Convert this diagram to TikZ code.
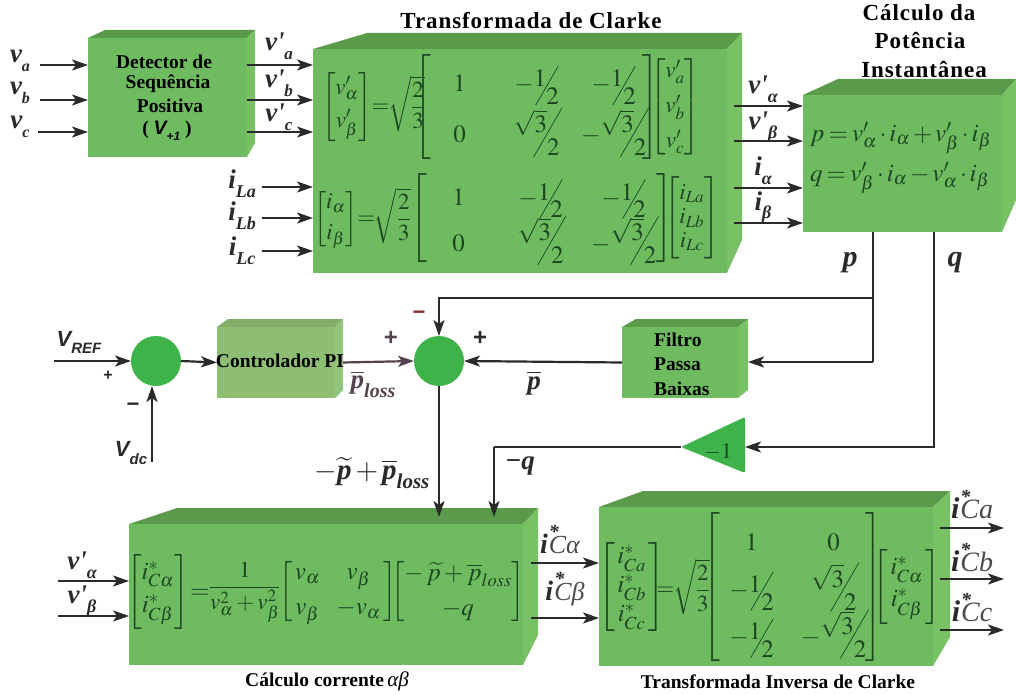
\documentclass[tikz,border=0pt]{standalone}
\usepackage{amsmath}
\usepackage{mathptmx}
\usepackage{graphicx}
\usepackage{fontspec}
\setmainfont{Liberation Serif}
\newfontfamily\hv{Liberation Sans}
\newfontfamily\ttl[LetterSpace=4]{Liberation Serif}
\usetikzlibrary{arrows.meta,calc}
\definecolor{gf}{HTML}{6FBC60}
\definecolor{gt}{HTML}{5C9A4B}
\definecolor{gs}{HTML}{78C164}
\definecolor{pf}{HTML}{8DBE73}
\definecolor{pt}{HTML}{84AD69}
\definecolor{ps}{HTML}{93C47D}
\definecolor{sumc}{HTML}{3DB34A}
\definecolor{ink}{HTML}{2A2A2A}
\definecolor{eqc}{HTML}{1C4522}
\definecolor{plum}{HTML}{54434F}
\newcommand\gbox[9]{%
  \fill[\cft] (#2,#3)--(#6,#8)--(#7,#8)--(#4,#3)--cycle;
  \fill[\cfs] (#4,#3)--(#7,#8)--(#7,#9)--(#4,#5)--cycle;
  \node[fill=\cff,inner sep=0pt,outer sep=0pt,minimum width={(#4-#2)*1pt},minimum height={(#5-#3)*1pt}] (#1) at ({(#2+#4)/2},{(#3+#5)/2}) {};
  \coordinate (#1back) at (#7,{(#3+#5)/2});
}
% slanted fractions: one-half form and root-three form
\newcommand\slashbar[2]{\makebox[.55em]{\smash{\raisebox{#2}{\rotatebox[origin=c]{60}{\rule{#1}{.7pt}}}}}}
\newcommand\sfr[2]{\mbox{\raisebox{.2em}{$#1$}\kern-.25em\slashbar{1.8em}{.24em}\kern-.3em\raisebox{-.5em}{$#2$}}}
\newcommand\sfs[2]{\mbox{\raisebox{.42em}{$#1$}\kern-.25em\slashbar{2.25em}{.4em}\kern-.3em\raisebox{-.5em}{$#2$}}}
\newcommand\cel[2]{\makebox[#1pt]{$#2$}}
\newcommand\lowsub[2]{\raisebox{-.32em}{\fontsize{#1}{#1}\selectfont #2}}
\newcommand\rowA{\rule[-15pt]{0pt}{51pt}}
\newcommand\rowB{\rule[-12.5pt]{0pt}{45.5pt}}
\newcommand\rowC{\rule[-13pt]{0pt}{47pt}}
\newcommand\pr{\textquotesingle}
\newcommand\ist[3]{{\fontsize{#1}{#1}\bfseries\itshape\selectfont i}\rlap{\smash{\raisebox{15pt}{\kern1pt\fontsize{20}{20}\bfseries\selectfont *}}}\kern1pt{\color{ink!85}\fontsize{#2}{#2}\mdseries\itshape\selectfont #3}}
\newcommand\rt{\mkern-2mu{=}\mkern-1mu\sqrt{\dfrac{2}{3}}}
\tikzset{
  arr/.style={draw=ink,line width=2.2pt,-{Stealth[length=16pt,width=11pt,inset=4pt]}},
  wire/.style={draw=ink,line width=2.2pt},
  title/.style={inner sep=0pt,font=\ttl\fontsize{23}{26}\bfseries\selectfont,text=black},
  boxt/.style={inner sep=0pt,font=\fontsize{19.5}{22}\bfseries\selectfont,text=black},
  sig/.style={inner sep=0pt,font=\fontsize{27}{30}\bfseries\itshape\selectfont,text=ink},
  sign/.style={inner sep=0pt,font=\hv\fontsize{22}{24}\bfseries\selectfont,text=ink},
  eq/.style={inner sep=0pt,outer sep=0pt,anchor=west,text=eqc,font=\fontsize{23}{27}\selectfont},
  eqb/.style={eq,font=\fontsize{25}{29}\selectfont},
  sumn/.style={circle,fill=sumc,inner sep=0pt,outer sep=0pt,minimum size=50pt},
}
\begin{document}
\begin{tikzpicture}[x=1pt,y=-1pt]
\useasboundingbox (0,0) rectangle (1016,695);
\def\cff{gf}\def\cft{gt}\def\cfs{gs}
\gbox{det}{88}{38}{247}{157}{105}{255}{30}{143}
\gbox{clarke}{313}{49}{727}{273}{367}{742}{33}{240}
\gbox{pot}{803}{95}{1002}{232}{838}{1016}{79}{200}
\gbox{filt}{622}{327}{738}{398}{636}{748}{319}{390}
\gbox{calc}{129}{524}{523}{665}{177}{538}{508}{635}
\gbox{inv}{599}{507}{933}{666}{643}{950}{491}{637}
\def\cff{pf}\def\cft{pt}\def\cfs{ps}
\gbox{pi}{217}{327}{335}{398}{228}{343}{319}{390}
\node[sumn] (sumA) at (156,361) {};
\node[sumn] (sumB) at (439,361) {};
\coordinate (gainIn) at (745,447);
\coordinate (gainOut) at (681,447);
\fill[sumc,rounded corners=2pt] (gainOut) -- (745,417) -- (745,473) -- cycle;
% titles
\node[title] (tClarke) at (531,21) {Transformada de Clarke};
\node[title] (tPotA) at (919,13) {Cálculo da};
\node[title] (tPotB) at (920,41) {Potência};
\node[title] (tPotC) at (924,70) {Instantânea};
\node[boxt] (dA) at (164,62) {Detector de};
\node[boxt] (dB) at (168,84) {Sequência};
\node[boxt] (dC) at (170,106) {Positiva};
\node[boxt] (dD) at (167,131) {( {\hv\itshape V\lowsub{12}{+1}} )};
\node[boxt,anchor=center] (piT) at (280,361) {Controlador PI};
\node[boxt,anchor=west] (fA) at (654,340) {Filtro};
\node[boxt,anchor=west] (fB) at (654,364) {Passa};
\node[boxt,anchor=west] (fC) at (654,389) {Baixas};
\node[boxt] (tCalc) at (327,681) {Cálculo corrente\,{\itshape\mdseries\fontsize{21}{21}\selectfont αβ}};
\node[boxt] (tInv) at (778,682) {Transformada Inversa de Clarke};
% Clarke equations
\node[eq] (eqAl) at (322,107) {$\left[\begin{array}{@{}c@{}} v'_{\alpha}\\[6pt] v'_{\beta}\end{array}\right]\rt$};
\node[eqb] (eqAm) at (414,107) {$\left[\begin{array}{@{}c@{}c@{}c@{}}
 \cel{58}{1}\rowA & \cel{96}{-\sfr{1}{2}} & \cel{58}{-\sfr{1}{2}}\\
 \cel{58}{0}\rowA & \cel{96}{\sfs{\sqrt{3}}{2}} & \cel{58}{-\sfs{\sqrt{3}}{2}}
\end{array}\right]$};
\node[eq] (eqAr) at (650,107) {$\left[\begin{array}{@{}c@{}} v'_{a}\\[8pt] v'_{b}\\[8pt] v'_{c}\end{array}\right]$};
\node[eq] (eqBl) at (314,218) {$\left[\begin{array}{@{}c@{}} i_{\alpha}\\[4pt] i_{\beta}\end{array}\right]\rt$};
\node[eqb] (eqBm) at (410,218) {$\left[\begin{array}{@{}c@{}c@{}c@{}}
 \cel{64}{1}\rowB & \cel{100}{-\sfr{1}{2}} & \cel{66}{-\sfr{1}{2}}\\
 \cel{64}{0}\rowB & \cel{100}{\sfs{\sqrt{3}}{2}} & \cel{66}{-\sfs{\sqrt{3}}{2}}
\end{array}\right]$};
\node[eq] (eqBr) at (664,218) {$\left[\begin{array}{@{}c@{}} i_{La}\\[-3pt] i_{Lb}\\[-3pt] i_{Lc}\end{array}\right]$};
% power
\node[eq,font=\fontsize{25}{30}\selectfont] (eqP) at (810,138) {$\thickmuskip=3mu\medmuskip=2mu p=v'_{\alpha}\cdot i_{\alpha}+v'_{\beta}\cdot i_{\beta}$};
\node[eq,font=\fontsize{25}{30}\selectfont] (eqQ) at (810,178) {$\thickmuskip=3mu\medmuskip=2mu q=v'_{\beta}\cdot i_{\alpha}-v'_{\alpha}\cdot i_{\beta}$};
% current
\node[eqb] (eqCa) at (127,592) {$\left[\begin{array}{@{}c@{}} i^{*}_{C\alpha}\\[4pt] i^{*}_{C\beta}\end{array}\right]\mkern-1mu{=}$};
\node[eq] (eqCb) at (209,592) {$\dfrac{1}{v_{\alpha}^{2}+v_{\beta}^{2}}$};
\node[eqb] (eqCc) at (279,592) {$\left[\begin{array}{@{\,}c@{\;\;\;}c@{\,}} v_{\alpha} & v_{\beta}\\[6pt] v_{\beta} & -v_{\alpha}\end{array}\right]$};
\node[eqb] (eqCd) at (391,592) {$\left[\begin{array}{@{}c@{}} -\,\widetilde{p}+\overline{p}_{loss}\\[6pt] -q\end{array}\right]$};
% inverse
\node[eqb] (eqDl) at (598,587) {$\left[\begin{array}{@{\,}c@{\,}} i^{*}_{Ca}\\ i^{*}_{Cb}\\ i^{*}_{Cc}\end{array}\right]$};
\node[eq] (eqDe) at (659,587) {$\rt$};
\node[eqb] (eqDm) at (703,587) {$\left[\begin{array}{@{}c@{}c@{}}
 \cel{64}{1}\rowC & \cel{100}{0}\\
 \cel{64}{-\sfr{1}{2}}\rowC & \cel{100}{\sfs{\sqrt{3}}{2}}\\
 \cel{64}{-\sfr{1}{2}}\rowC & \cel{100}{-\sfs{\sqrt{3}}{2}}
\end{array}\hspace{-18pt}\right]$};
\node[eqb] (eqDr) at (873,587) {$\left[\begin{array}{@{\,}c@{\,}} i^{*}_{C\alpha}\\[3pt] i^{*}_{C\beta}\end{array}\right]$};
% input/output signal names
\node[sig] (lva) at (20,61) {v\lowsub{16}{a}};
\node[sig] (lvb) at (20,93) {v\lowsub{16}{b}};
\node[sig] (lvc) at (20,127) {v\lowsub{16}{c}};
\node[sig] (lpa) at (279,46) {v\pr\lowsub{17}{a}};
\node[sig] (lpb) at (279,83) {v\pr\lowsub{17}{b}};
\node[sig] (lpc) at (279,117) {v\pr\lowsub{17}{c}};
\node[sig] (lia) at (242,184) {i\lowsub{18}{La}};
\node[sig] (lib) at (242,216) {i\lowsub{18}{Lb}};
\node[sig] (lic) at (242,251) {i\lowsub{18}{Lc}};
\node[sig] (lal) at (763,89) {v\pr\lowsub{18}{α}};
\node[sig] (lbe) at (763,127) {v\pr\lowsub{18}{β}};
\node[sig] (lial) at (763,171) {i\lowsub{18}{α}};
\node[sig] (libe) at (763,207) {i\lowsub{18}{β}};
\node[sig,font=\fontsize{30}{30}\bfseries\itshape\selectfont] (lp) at (850,263) {p};
\node[sig,font=\fontsize{30}{30}\bfseries\itshape\selectfont] (lq) at (955,263) {q};
\node[inner sep=0pt,text=ink,font=\hv\fontsize{22}{24}\bfseries\itshape\selectfont] (lvref) at (79,342) {V\lowsub{15}{REF}};
\node[inner sep=0pt,text=ink,font=\hv\fontsize{22}{24}\bfseries\itshape\selectfont] (lvdc) at (131,453) {V\lowsub{15}{dc}};
\node[sign,font=\hv\fontsize{16}{16}\bfseries\selectfont] (spA) at (108,376) {+};
\node[sign] (smA) at (133,407) {−};
\node[sign,font=\hv\fontsize{24}{24}\bfseries\selectfont,text=plum] (spB) at (391,338) {+};
\node[sign,text=plum!70!red] (smB) at (419,315) {−};
\node[sign,font=\hv\fontsize{24}{24}\bfseries\selectfont] (spC) at (480,338) {+};
\node[sig,text=plum] (lpl) at (373,384) {$\overline{\mbox{\itshape p}}$\lowsub{20}{loss}};
\node[sig,font=\fontsize{29}{30}\bfseries\itshape\selectfont] (lmix) at (372,473) {$-\widetilde{\mbox{\itshape p}}+\overline{\mbox{\itshape p}}$\lowsub{21}{loss}};
\node[sig] (lpb2) at (534,383) {$\overline{\mbox{\itshape p}}$};
\node[sig] (lmq) at (520,466) {−q};
\node[inner sep=0pt,text=eqc,font=\fontsize{22}{22}\selectfont] (lgain) at (718,452) {$-1$};
\node[sig] (lcva) at (82,565) {v\pr\lowsub{18}{α}};
\node[sig] (lcvb) at (82,601) {v\pr\lowsub{18}{β}};
\node[sig] (lial2) at (560,544) {\ist{28}{26}{Cα}};
\node[sig] (libe2) at (565,594) {\ist{28}{26}{Cβ}};
\node[sig] (lca) at (972,508) {\ist{30}{28}{Ca}};
\node[sig] (lcb) at (972,561) {\ist{30}{28}{Cb}};
\node[sig] (lcc) at (972,611) {\ist{30}{28}{Cc}};
% free ends
\coordinate (va) at (40,65); \coordinate (vb) at (40,100); \coordinate (vc) at (38,132);
\coordinate (ya) at (0,65); \coordinate (yb) at (0,100); \coordinate (yc) at (0,132);
\coordinate (ila) at (262,187); \coordinate (ilb) at (262,218); \coordinate (ilc) at (262,251);
\coordinate (cva) at (734,106); \coordinate (cvb) at (734,141); \coordinate (cia) at (734,188); \coordinate (cib) at (734,223);
\coordinate (pJ) at (873,298); \coordinate (pK) at (873,362); \coordinate (qK) at (934,447);
\coordinate (vref) at (54,361); \coordinate (vdc) at (152,462);
\coordinate (inA) at (437,517); \coordinate (inB) at (494,517); \coordinate (gainC) at (494,447);
\coordinate (ca) at (58,581); \coordinate (cb) at (58,616);
\coordinate (oa) at (531,563); \coordinate (ob) at (531,618);
\coordinate (ra) at (940,528); \coordinate (rb) at (940,579); \coordinate (rc) at (940,630);
\coordinate (rEnd) at (1004,528);
% connectors
\draw[arr] (va) -- (det.west |- va);
\draw[arr] (vb) -- (det.west |- vb);
\draw[arr] (vc) -- (det.west |- vc);
\draw[arr] (det.east |- ya) -- (clarke.west |- ya);
\draw[arr] (det.east |- yb) -- (clarke.west |- yb);
\draw[arr] (det.east |- yc) -- (clarke.west |- yc);
\draw[arr] (ila) -- (clarke.west |- ila);
\draw[arr] (ilb) -- (clarke.west |- ilb);
\draw[arr] (ilc) -- (clarke.west |- ilc);
\draw[arr] (cva) -- (pot.west |- cva);
\draw[arr] (cvb) -- (pot.west |- cvb);
\draw[arr] (cia) -- (pot.west |- cia);
\draw[arr] (cib) -- (pot.west |- cib);
\draw[wire] (pot.south -| pJ) -- (pK);
\draw[arr] (pJ) -| (sumB.north);
\draw[arr] (pK) -- (filtback |- pK);
\draw[arr] (filt.west) -- (sumB.east);
\draw[arr] (pot.south -| qK) |- (gainIn);
\draw[wire] (gainOut) -- (gainC);
\draw[arr] (gainC) -- (inB);
\draw[arr] (vref) -- (sumA.west);
\draw[arr] (vdc) -- (sumA.south -| vdc);
\draw[arr] (sumA.east) -- (pi.west);
\draw[arr,draw=plum] (piback) -- (sumB.west);
\draw[arr] (sumB.south) -- (sumB.south |- inA);
\draw[arr] (ca) -- (calc.west |- ca);
\draw[arr] (cb) -- (calc.west |- cb);
\draw[arr] (oa) -- (inv.west |- oa);
\draw[arr] (ob) -- (inv.west |- ob);
\draw[arr] (ra) -- (rEnd);
\draw[arr] (rb) -- (rEnd |- rb);
\draw[arr] (rc) -- (rEnd |- rc);
\end{tikzpicture}
\end{document}
